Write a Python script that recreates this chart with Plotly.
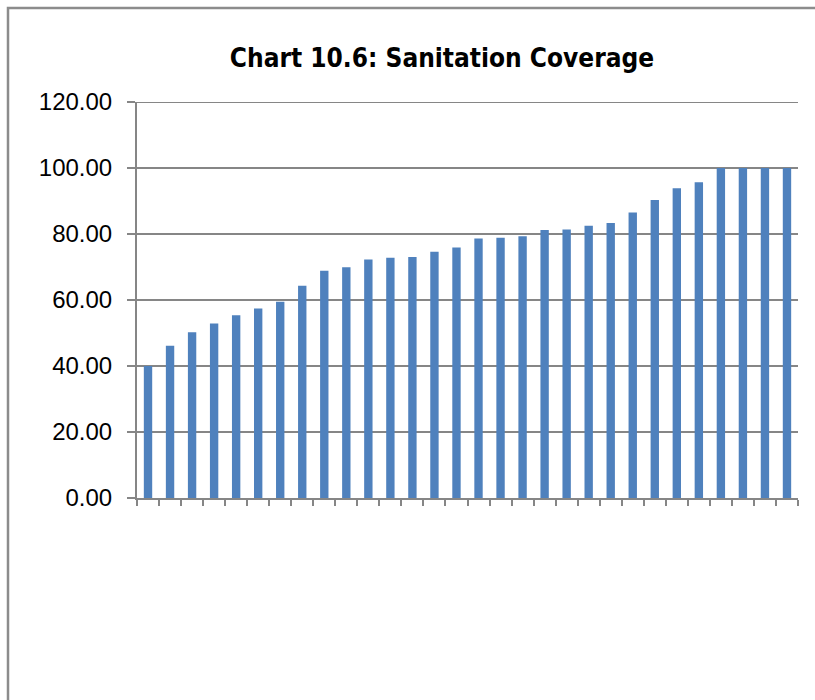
import plotly.graph_objects as go

# Sanitation coverage (%) by unit, sorted ascending
units = list(range(1, 31))
coverage = [40.0, 46.1, 50.2, 52.9, 55.4, 57.4, 59.5, 64.3, 68.9, 69.9,
            72.3, 72.8, 73.0, 74.6, 75.9, 78.6, 78.9, 79.3, 81.2, 81.4,
            82.5, 83.3, 86.5, 90.3, 93.9, 95.7, 100.0, 100.0, 100.0, 100.0]

y_ticks = [0, 20, 40, 60, 80, 100, 120]
title_text = "Chart 10.6: Sanitation Coverage"

GRID = "#868686"
BAR = "#4F81BD"

L, R, T, B = 137, 17, 102, 202
PW, PH = 815 - L - R, 700 - T - B

fig = go.Figure(
    go.Bar(x=units, y=coverage, marker=dict(color=BAR, line=dict(width=0)), width=0.38)
)

fig.update_layout(
    width=815, height=700,
    paper_bgcolor="white", plot_bgcolor="white",
    margin=dict(l=L, r=R, t=T, b=B),
    showlegend=False,
    title=dict(text=f"<b>{title_text}</b>", x=442 / 815, xref="container", xanchor="center",
               y=1 - 58 / 700, yref="container", yanchor="middle",
               font=dict(family="DejaVu Sans Condensed", size=26, color="black")),
)

fig.update_xaxes(
    range=[0.5, 30.5], showticklabels=False, showgrid=False,
    tickmode="array", tickvals=[u - 0.5 for u in units] + [30.5],
    ticks="outside", ticklen=6, tickwidth=1.5, tickcolor=GRID,
    showline=True, linecolor=GRID, linewidth=2, zeroline=False,
)
fig.update_yaxes(
    range=[0, 120], tickmode="array", tickvals=y_ticks,
    ticktext=[f"{v:.2f}" for v in y_ticks],
    ticks="outside", ticklen=8, tickwidth=1.5, tickcolor=GRID,
    ticklabelstandoff=10,
    showgrid=True, gridcolor=GRID, gridwidth=2,
    showline=True, linecolor=GRID, linewidth=2, zeroline=False,
    tickfont=dict(family="Liberation Sans", size=24, color="black"),
)

# top gridline at 120 (edge gridlines are not drawn by the axis)
fig.add_shape(type="line", xref="paper", yref="y", x0=0, x1=1, y0=120, y1=120,
              line=dict(color=GRID, width=2), layer="below")

# outer chart border
fig.add_shape(type="rect", xref="paper", yref="paper",
              x0=(8 - L) / PW, x1=(818 - L) / PW, y0=-1.0, y1=1 + (T - 8) / PH,
              line=dict(color="#8c8c8c", width=2.5), fillcolor="rgba(0,0,0,0)", layer="below")

fig.write_html("out.html")
